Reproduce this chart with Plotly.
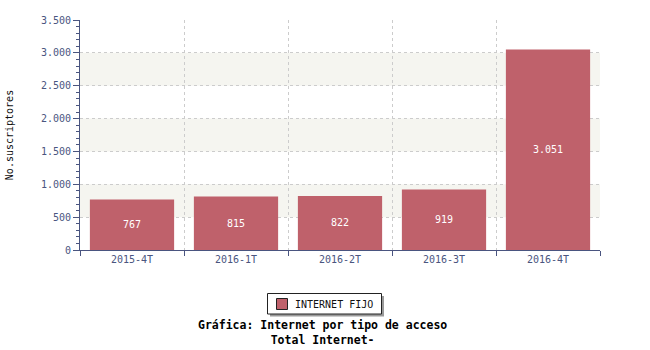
import plotly.graph_objects as go

categories = ["2015-4T", "2016-1T", "2016-2T", "2016-3T", "2016-4T"]
values = [767, 815, 822, 919, 3051]
series_name = "INTERNET FIJO"
y_title = "No.suscriptores"
title_lines = ["Gráfica: Internet por tipo de acceso", "Total Internet-"]
band_ranges = [(500, 1000), (1500, 2000), (2500, 3000)]

FONT = "DejaVu Sans Mono"
AXIS_COLOR = "#4a5580"
BAR_COLOR = "#bf616b"

PL, PR, PT, PB = 80, 600, 20, 250  # plot area in pixels
def px_x(p):
    return (p - PL) / (PR - PL)
def px_y(p):
    return (PB - p) / (PB - PT)

fig = go.Figure()
fig.add_trace(go.Bar(
    x=categories, y=values, name=series_name,
    marker=dict(color=BAR_COLOR, line=dict(width=0)),
    width=0.81,
    texttemplate="%{y:,}", textposition="inside", insidetextanchor="middle",
    textfont=dict(color="white", family=FONT, size=10),
    showlegend=False,
))

shapes = []
for lo, hi in band_ranges:
    shapes.append(dict(type="rect", xref="paper", yref="y", x0=0, x1=1, y0=lo, y1=hi,
                       fillcolor="#f5f5f0", line=dict(width=0), layer="below"))
# custom legend: shadow, box, swatch
shapes.append(dict(type="rect", xref="paper", yref="paper",
                   x0=px_x(270), x1=px_x(384), y0=px_y(316.5), y1=px_y(296),
                   fillcolor="#9a9a9a", line=dict(width=0), layer="above"))
shapes.append(dict(type="rect", xref="paper", yref="paper",
                   x0=px_x(267.5), x1=px_x(381.5), y0=px_y(314), y1=px_y(293.5),
                   fillcolor="white", line=dict(width=1, color="#222222"), layer="above"))
shapes.append(dict(type="rect", xref="paper", yref="paper",
                   x0=px_x(276.5), x1=px_x(287.5), y0=px_y(309.5), y1=px_y(298.5),
                   fillcolor=BAR_COLOR, line=dict(width=1, color="#222222"), layer="above"))

fig.update_layout(
    width=650, height=350,
    margin=dict(l=PL, r=650 - PR, t=PT, b=350 - PB),
    paper_bgcolor="white", plot_bgcolor="white",
    font=dict(family=FONT, size=10, color=AXIS_COLOR),
    separators=",.",
    bargap=0.19,
    shapes=shapes,
    showlegend=False,
    annotations=[
        dict(text=series_name, xref="paper", yref="paper", x=px_x(293), y=px_y(304),
             xanchor="left", yanchor="middle", showarrow=False,
             font=dict(family=FONT, size=10, color="#111111")),
        dict(text="<b>" + title_lines[0] + "</b><br><b>" + title_lines[1] + "</b>",
             xref="paper", yref="paper", x=px_x(322), y=px_y(316),
             xanchor="center", yanchor="top", showarrow=False,
             font=dict(family=FONT, size=11.5, color="#000000")),
    ],
)

fig.update_xaxes(
    type="category", tickson="boundaries", ticks="outside", ticklen=5, tickcolor=AXIS_COLOR,
    showline=True, linecolor=AXIS_COLOR, linewidth=1,
    showgrid=True, gridcolor="#cccccc", griddash="3px,3px", gridwidth=1,
    tickfont=dict(family=FONT, size=10, color=AXIS_COLOR),
    range=[-0.5, 4.5], fixedrange=True, automargin=False,
)
fig.update_yaxes(
    range=[0, 3500], dtick=500, tickformat=",d",
    ticks="outside", ticklen=6, tickcolor=AXIS_COLOR,
    minor=dict(dtick=100, ticks="outside", ticklen=3, tickcolor=AXIS_COLOR, showgrid=False),
    showline=True, linecolor=AXIS_COLOR, linewidth=1,
    showgrid=True, gridcolor="#cccccc", griddash="3px,3px", gridwidth=1,
    zeroline=False, automargin=False,
    tickfont=dict(family=FONT, size=10, color=AXIS_COLOR),
    title=dict(text=y_title, font=dict(family=FONT, size=10, color="#111111"), standoff=25),
)

fig.write_html("out.html")
